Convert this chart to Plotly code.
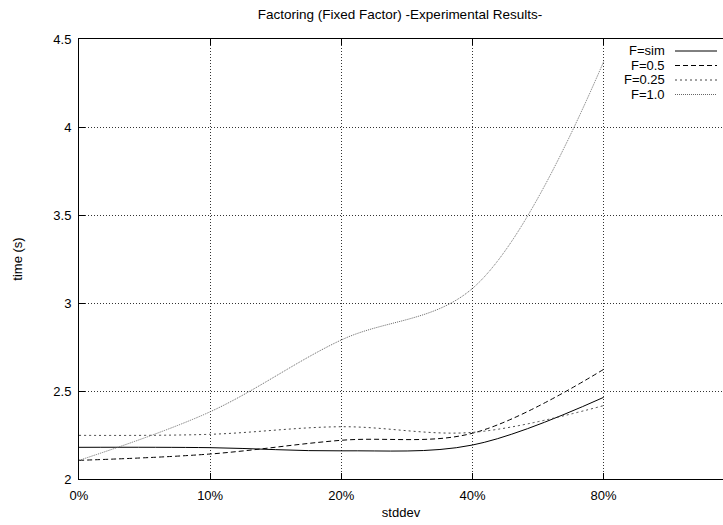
import plotly.graph_objects as go

# stddev categories (evenly spaced on the x axis)
stddev_labels = ["0%", "10%", "20%", "40%", "80%"]
x_pos = [0, 1, 2, 3, 4]

# measured run time in seconds for each factoring setting
f_sim = [2.18, 2.178, 2.16, 2.193, 2.464]
f_05 = [2.106, 2.142, 2.22, 2.26, 2.623]
f_025 = [2.248, 2.254, 2.297, 2.265, 2.417]
f_10 = [2.106, 2.382, 2.79, 3.083, 4.371]

y_ticks = [2, 2.5, 3, 3.5, 4, 4.5]

series = [
    ("F=sim", f_sim, dict(color="black", width=1, dash="solid")),
    ("F=0.5", f_05, dict(color="black", width=1, dash="5px,3px")),
    ("F=0.25", f_025, dict(color="#444444", width=1, dash="2px,3px")),
    ("F=1.0", f_10, dict(color="#666666", width=1, dash="1px,1px")),
]

FONT = "Liberation Sans, Arial, sans-serif"
FS = 13

fig = go.Figure()
for name, vals, line in series:
    fig.add_trace(go.Scatter(
        x=x_pos, y=vals, mode="lines", name=name,
        line=dict(shape="spline", smoothing=1.0, **line),
        showlegend=False,
    ))

# key in the upper right: right-aligned labels followed by line samples
row_y = [51, 65.5, 80, 94.5]
H = 525.0
for (name, vals, line), yy in zip(series, row_y):
    yp = 1 - (yy - 39) / (479 - 39)
    fig.add_annotation(
        xref="paper", yref="paper", x=(667 - 79) / (723 - 79), y=yp,
        text=name, showarrow=False, xanchor="right", yanchor="middle",
        font=dict(family=FONT, size=FS, color="black"),
    )
    fig.add_shape(
        type="line", xref="paper", yref="paper",
        x0=(675 - 79) / (723 - 79), x1=(717 - 79) / (723 - 79), y0=yp, y1=yp,
        line=line,
    )

fig.update_layout(
    width=723, height=525,
    margin=dict(l=79, r=0, t=39, b=46),
    paper_bgcolor="white", plot_bgcolor="white",
    font=dict(family=FONT, size=FS, color="black"),
    title=dict(text="Factoring (Fixed Factor) -Experimental Results-",
               x=400 / 723, xanchor="center", y=1 - 14 / H, yanchor="middle",
               font=dict(family=FONT, size=13.5)),
)

fig.update_xaxes(
    range=[0, 4.91], tickvals=x_pos, ticktext=stddev_labels,
    showgrid=True, gridcolor="#333333", griddash="1px,2px", gridwidth=1,
    showline=True, linecolor="black", linewidth=1, mirror="ticks",
    ticks="inside", ticklen=6, tickcolor="black", ticklabelstandoff=4,
    zeroline=False,
    title=dict(text="stddev", standoff=6, font=dict(family=FONT, size=FS)),
)
fig.update_yaxes(
    range=[2, 4.5], tickvals=y_ticks, ticktext=[f"{v:g}" for v in y_ticks],
    showgrid=True, gridcolor="#333333", griddash="1px,2px", gridwidth=1,
    showline=True, linecolor="black", linewidth=1, mirror=False,
    ticks="inside", ticklen=6, tickcolor="black", ticklabelstandoff=4,
    zeroline=False,
    title=dict(text="time (s)", standoff=27, font=dict(family=FONT, size=FS)),
)

fig.write_html("out.html")
